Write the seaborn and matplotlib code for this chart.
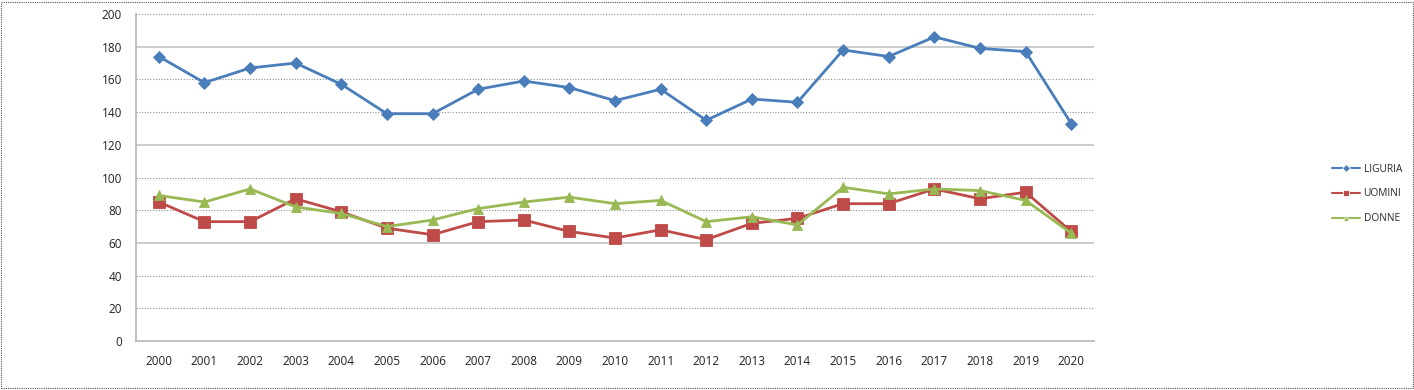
import numpy as np
import pandas as pd
import matplotlib
matplotlib.use("Agg")
import matplotlib.pyplot as plt
import seaborn as sns
from matplotlib.patches import Rectangle
from matplotlib.ticker import FixedLocator

# data
years = ['2000', '2001', '2002', '2003', '2004', '2005', '2006', '2007', '2008', '2009', '2010',
         '2011', '2012', '2013', '2014', '2015', '2016', '2017', '2018', '2019', '2020']
liguria = [174, 158, 167, 170, 157, 139, 139, 154, 159, 155, 147, 154, 135, 148, 146, 178, 174, 186, 179, 177, 133]
uomini = [85, 73, 73, 87, 79, 69, 65, 73, 74, 67, 63, 68, 62, 72, 75, 84, 84, 93, 87, 91, 67]
donne = [89, 85, 93, 82, 78, 70, 74, 81, 85, 88, 84, 86, 73, 76, 71, 94, 90, 93, 92, 86, 66]
series_names = ['LIGURIA', 'UOMINI', 'DONNE']

df = pd.DataFrame({'anno': years * 3,
                   'valore': liguria + uomini + donne,
                   'serie': np.repeat(series_names, len(years))})
df['pos'] = df['anno'].map({y: i for i, y in enumerate(years)})

sns.set_style('white')
plt.rcParams['font.family'] = ['Open Sans', 'DejaVu Sans']

fig = plt.figure(figsize=(14.14, 3.9), dpi=100)
ax = fig.add_axes([0.0962, 0.1256, 0.6775, 0.8385])

palette = {'LIGURIA': '#4a7ebb', 'UOMINI': '#be4b48', 'DONNE': '#98b954'}
sizes = {'LIGURIA': 6, 'UOMINI': 8, 'DONNE': 7}
markers = {'LIGURIA': 'D', 'UOMINI': 's', 'DONNE': '^'}

sns.lineplot(data=df, x='pos', y='valore', hue='serie', style='serie',
             palette=palette, markers=markers, dashes=False, linewidth=2,
             markersize=7, markeredgewidth=0.6, ax=ax)
for line, name in zip(ax.lines, series_names):
    line.set_markersize(sizes[name])
    line.set_markeredgecolor(palette[name])

ax.set_xlim(-0.5, len(years) - 0.5)
ax.set_ylim(0, 200)
ax.set_yticks(range(0, 201, 20))
ax.set_xticks(range(len(years)))
ax.set_xticklabels(years)
ax.xaxis.set_minor_locator(FixedLocator(np.arange(-0.5, len(years), 1)))
ax.tick_params(axis='x', which='major', length=0, pad=10, labelsize=8.5, colors='#222222')
ax.tick_params(axis='x', which='minor', length=4, color='#a0a0a0', direction='out')
ax.tick_params(axis='y', length=4, color='#a0a0a0', direction='out', pad=6, labelsize=8.5, colors='#222222')
ax.set_xlabel('')
ax.set_ylabel('')

for v in range(20, 201, 20):
    if v in (60, 120, 180):
        ax.axhline(v, color='#c4c4c4', lw=1.2, zorder=0)
    else:
        ax.axhline(v, color='#8c8c8c', lw=0.8, ls=(0, (1, 1.5)), zorder=0)

for s in ['top', 'right']:
    ax.spines[s].set_visible(False)
for s in ['left', 'bottom']:
    ax.spines[s].set_color('#b5b5b5')
    ax.spines[s].set_linewidth(1.2)

handles, labels = ax.get_legend_handles_labels()
leg = ax.legend(handles, labels, loc='center left', bbox_to_anchor=(1325 / 1414, 1 - 194 / 390),
                bbox_transform=fig.transFigure, frameon=False, fontsize=7.3,
                handlelength=2.8, labelspacing=1.35, handletextpad=0.3, borderpad=0.2)
for h in leg.legend_handles:
    h.set_markersize(4.5)
    h.set_linewidth(1.5)

fig.patches.append(Rectangle((0.001, 0.006), 0.998, 0.99, transform=fig.transFigure,
                             fill=False, ec='#555555', lw=0.8, ls=(0, (1, 1))))

fig.savefig('out.png', dpi=100)
